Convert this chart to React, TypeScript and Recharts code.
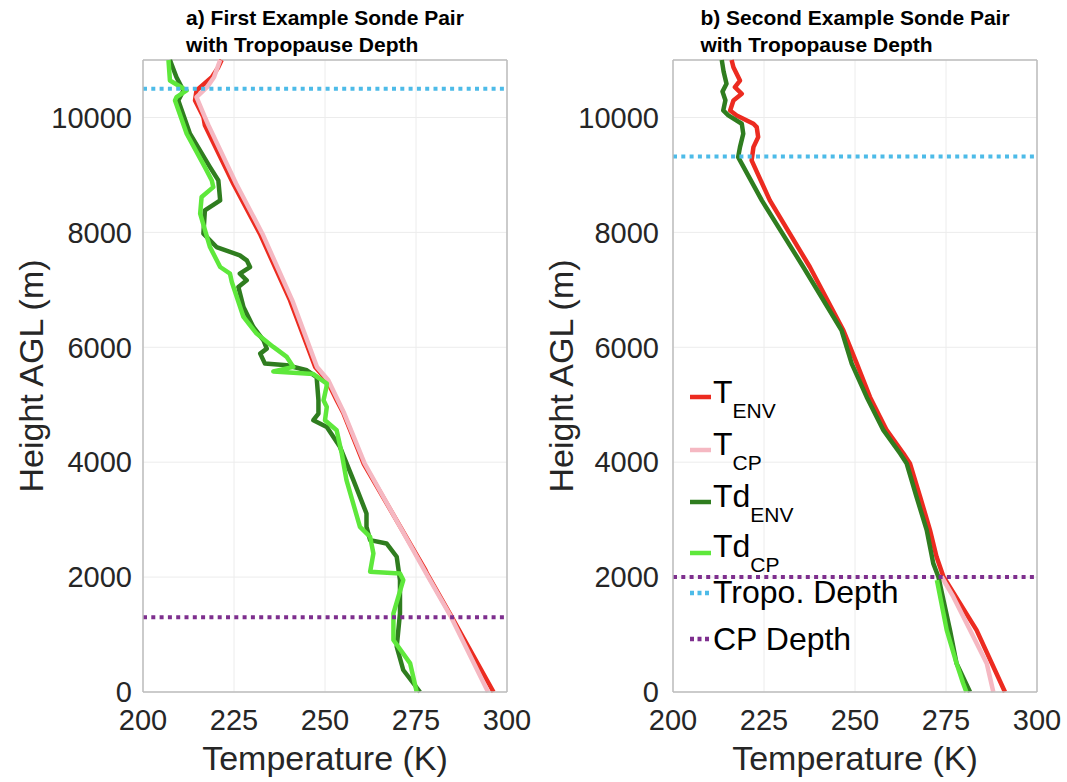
import {
    CartesianGrid,
    Label,
    Legend,
    Line,
    LineChart,
    ReferenceLine,
    XAxis,
    YAxis,
} from 'recharts';

// [temperature K, height m], from the ground up
const aTEnv = [
    [296.3, 0], [284.8, 1310], [278.0, 2064], [277.6, 2120], [260.6, 3977], [255.1, 4846],
    [253.2, 5078], [250.5, 5426], [247.3, 5658], [240.4, 6817], [232.1, 7977], [224.8, 8846],
    [217.0, 9862], [216.6, 10006], [214.3, 10296], [214.7, 10470], [218.9, 10701], [220.7, 10875],
    [221.6, 11000],
];
const aTCp = [
    [294.8, 0], [284.6, 1310], [277.8, 2064], [260.9, 3977], [255.3, 4846], [250.9, 5426],
    [247.8, 5658], [241.0, 6817], [232.8, 7977], [225.6, 8846], [218.0, 9862], [217.0, 10006],
    [214.7, 10354], [217.6, 10528], [219.5, 10701], [221.2, 11000],
];
const aTdEnv = [
    [276.1, 0], [271.5, 383], [269.7, 788], [270.6, 1368], [270.6, 1948], [269.7, 2354],
    [266.9, 2585], [262.4, 2643], [261.4, 2875], [261.4, 3107], [257.8, 3687], [254.1, 4267],
    [250.5, 4614], [246.8, 4730], [248.2, 4846], [248.2, 5078], [247.7, 5480], [245.0, 5600],
    [239.5, 5687], [233.5, 5716], [232.2, 5890], [234.0, 5977], [233.1, 6122], [230.3, 6354],
    [227.6, 6701], [226.2, 7049], [228.5, 7165], [226.6, 7281], [229.4, 7397], [228.5, 7513],
    [226.6, 7600], [220.2, 7745], [216.6, 7977], [217.0, 8383], [221.2, 8557], [220.7, 8904],
    [218.4, 9136], [212.9, 9716], [209.7, 10296], [211.1, 10470], [209.2, 10701], [207.4, 11000],
];
const aTdCp = [
    [275.2, 0], [273.4, 498], [268.8, 904], [268.8, 1368], [271.5, 1948], [270.6, 2064],
    [262.4, 2093], [263.3, 2411], [262.4, 2701], [259.6, 2875], [255.9, 3687], [254.6, 4151],
    [253.2, 4556], [250.0, 4730], [250.5, 4962], [249.6, 5078], [250.4, 5310], [250.5, 5368],
    [246.8, 5533], [235.8, 5580], [241.3, 5658], [239.5, 5832], [235.8, 6006], [231.2, 6238],
    [227.6, 6528], [224.4, 7136], [223.9, 7281], [221.2, 7397], [218.4, 7745], [215.7, 8325],
    [216.1, 8615], [219.3, 8788], [218.9, 8904], [217.0, 9136], [212.0, 9716], [208.8, 10296],
    [209.2, 10354], [212.0, 10470], [207.4, 10643], [207.0, 11000],
];

const bTEnv = [
    [291.2, 0], [283.4, 1078], [274.3, 2006], [272.4, 2354], [270.6, 2817], [267.9, 3397],
    [265.1, 3977], [263.3, 4151], [258.7, 4557], [254.1, 5136], [250.5, 5716], [246.8, 6296],
    [237.6, 7397], [226.6, 8557], [221.6, 9252], [222.1, 9484], [223.4, 9658], [223.0, 9832],
    [222.1, 9890], [217.5, 10035], [215.7, 10122], [216.6, 10296], [218.9, 10412], [217.0, 10528],
    [218.4, 10643], [216.6, 10875], [216.1, 11000],
];
const bTCp = [[288.0, 0], [286.2, 498], [281.6, 1078], [277.0, 1658], [273.8, 2006]];
const bTdEnv = [
    [281.6, 0], [277.9, 498], [276.1, 1078], [272.9, 2006], [271.5, 2238], [269.7, 2817],
    [266.9, 3397], [264.2, 3977], [262.4, 4151], [257.8, 4557], [253.2, 5136], [249.1, 5716],
    [246.3, 6296], [235.8, 7397], [224.4, 8557], [217.9, 9310], [218.4, 9484], [219.3, 9716],
    [218.9, 9890], [215.2, 10035], [213.8, 10122], [214.4, 10300], [213.6, 10450], [214.7, 10586],
    [213.9, 10800], [213.4, 11000],
];
const bTdCp = [[280.6, 0], [279.7, 151], [277.9, 498], [275.2, 1078], [272.5, 1948]];

const tropoDepth = { a: 10500, b: 9320 };
const cpDepth = { a: 1300, b: 2000 };

const xTicks = [200, 225, 250, 275, 300];
const yTicks = [0, 2000, 4000, 6000, 8000, 10000];

const seriesNames = ['T_ENV', 'T_CP', 'Td_ENV', 'Td_CP'];
const legendMain = ['T', 'T', 'Td', 'Td', 'Tropo. Depth', 'CP Depth'];
const legendSub = ['ENV', 'CP', 'ENV', 'CP', '', ''];

const RED = '#ec2b20';
const PINK = '#f5b8c2';
const DKGREEN = '#2f7d1f';
const LTGREEN = '#5ee83b';
const TROPO = '#4dbbe8';
const PURPLE = '#7e2f8e';
const BOX = '#bcbcbc';
const GRID = '#ececec';
const TXT = '#262626';
const FONT = '"Liberation Sans", Arial, Helvetica, sans-serif';

const colors = [RED, PINK, DKGREEN, LTGREEN];
const legendColors = [RED, PINK, DKGREEN, LTGREEN, TROPO, PURPLE];

const toPts = (rows: number[][]) => rows.map(([t, h]) => ({ t, h }));

function SondeLegend() {
    const base = [43, 95, 147, 197, 243, 290];
    const lineY = [37, 90, 142, 193, 233, 279];
    return (
        <svg width={260} height={300} style={{ overflow: 'visible' }}>
            {legendMain.map((m, i) => (
                <g key={i}>
                    <line
                        x1={10}
                        x2={31}
                        y1={lineY[i]}
                        y2={lineY[i]}
                        stroke={legendColors[i]}
                        strokeWidth={4.5}
                        strokeDasharray={i >= 4 ? '4 3.5' : undefined}
                    />
                    <text x={33} y={base[i]} fontSize={32} fill="#000" fontFamily={FONT}>
                        {m}
                        {legendSub[i] && (
                            <tspan fontSize={21} dy={15}>
                                {legendSub[i]}
                            </tspan>
                        )}
                    </text>
                </g>
            ))}
        </svg>
    );
}

interface PanelProps {
    title: string;
    data: number[][][];
    tropo: number;
    cp: number;
    tickGap: number;
    legend?: boolean;
}

function Panel({ title, data, tropo, cp, tickGap, legend }: PanelProps) {
    return (
        <div style={{ position: 'relative', width: 560, height: 782 }}>
            <div
                style={{
                    position: 'absolute',
                    left: 325,
                    top: 4,
                    transform: 'translateX(-50%)',
                    fontFamily: FONT,
                    fontWeight: 'bold',
                    fontSize: 21,
                    lineHeight: '27px',
                    whiteSpace: 'pre',
                    color: '#000',
                    zIndex: 2,
                }}
            >
                {title}
            </div>
            <LineChart width={560} height={782} margin={{ top: 60, right: 53, bottom: 50, left: 53 }}>
                <CartesianGrid stroke={GRID} strokeWidth={1} />
                <XAxis
                    type="number"
                    dataKey="t"
                    domain={[200, 300]}
                    ticks={xTicks}
                    interval={0}
                    height={40}
                    tickLine={false}
                    tickSize={0}
                    tickMargin={17}
                    axisLine={{ stroke: BOX, strokeWidth: 1.5 }}
                    tick={{ fontSize: 29, fill: TXT, fontFamily: FONT }}
                >
                    <Label
                        content={() => (
                            <text x={325} y={770} textAnchor="middle" fontSize={34} fill={TXT} fontFamily={FONT}>
                                Temperature (K)
                            </text>
                        )}
                    />
                </XAxis>
                <YAxis
                    type="number"
                    domain={[0, 11000]}
                    ticks={yTicks}
                    interval={0}
                    width={90}
                    tickLine={false}
                    tickSize={0}
                    tickMargin={tickGap}
                    axisLine={{ stroke: BOX, strokeWidth: 1.5 }}
                    tick={{ fontSize: 29, fill: TXT, fontFamily: FONT }}
                >
                    <Label
                        content={() => (
                            <text
                                transform="translate(43,376) rotate(-90)"
                                textAnchor="middle"
                                fontSize={34}
                                fill={TXT}
                                fontFamily={FONT}
                            >
                                Height AGL (m)
                            </text>
                        )}
                    />
                </YAxis>
                <ReferenceLine y={11000} stroke={BOX} strokeWidth={1.5} />
                <ReferenceLine x={300} stroke={BOX} strokeWidth={1.5} />
                {data.map((rows, i) => (
                    <Line
                        key={seriesNames[i]}
                        name={seriesNames[i]}
                        data={toPts(rows)}
                        dataKey="h"
                        type="linear"
                        stroke={colors[i]}
                        strokeWidth={4.5}
                        strokeLinejoin="round"
                        dot={false}
                        activeDot={false}
                        isAnimationActive={false}
                    />
                ))}
                <ReferenceLine y={tropo} stroke={TROPO} strokeWidth={4} strokeDasharray="4 4.3" />
                <ReferenceLine y={cp} stroke={PURPLE} strokeWidth={4} strokeDasharray="4 4.3" />
                {legend && (
                    <Legend
                        layout="vertical"
                        align="center"
                        verticalAlign="middle"
                        content={() => <SondeLegend />}
                        wrapperStyle={{ left: 150, top: 360, width: 260, height: 300 }}
                    />
                )}
            </LineChart>
        </div>
    );
}

export default function App() {
    return (
        <div
            style={{
                position: 'absolute',
                left: 0,
                top: 0,
                width: 1067,
                height: 782,
                background: '#fff',
                overflow: 'hidden',
            }}
        >
            <div style={{ position: 'absolute', left: 0, top: 0 }}>
                <Panel
                    title={'a) First Example Sonde Pair\nwith Tropopause Depth'}
                    data={[aTEnv, aTCp, aTdEnv, aTdCp]}
                    tropo={tropoDepth.a}
                    cp={cpDepth.a}
                    tickGap={11}
                />
            </div>
            <div style={{ position: 'absolute', left: 530, top: 0 }}>
                <Panel
                    title={'b) Second Example Sonde Pair\nwith Tropopause Depth'}
                    data={[bTEnv, bTCp, bTdEnv, bTdCp]}
                    tropo={tropoDepth.b}
                    cp={cpDepth.b}
                    tickGap={14}
                    legend
                />
            </div>
        </div>
    );
}
